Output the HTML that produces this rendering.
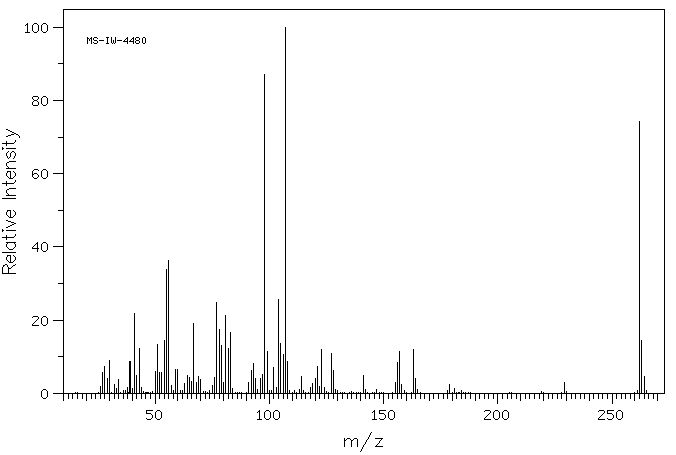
<!DOCTYPE html>
<html><head><meta charset="utf-8"><title>MS-IW-4480</title>
<style>
html,body{margin:0;padding:0;background:#fff;}
body{width:676px;height:455px;overflow:hidden;position:relative;font-family:"Liberation Sans",sans-serif;}
svg{position:absolute;left:0;top:0;display:block;}
</style></head><body>
<svg width="676" height="455" viewBox="0 0 676 455" shape-rendering="crispEdges">
<rect width="676" height="455" fill="#fff"/>
<path d="M2 143h1v1h-1zM2 147h1v3h-1zM2 183h1v1h-1zM2 198h1v1h-1zM2 229h1v3h-1zM2 237h1v1h-1zM2 252h1v1h-1zM2 267h1v7h-1zM3 143h1v1h-1zM3 148h1v1h-1zM3 183h1v1h-1zM3 198h1v1h-1zM3 230h1v1h-1zM3 237h1v1h-1zM3 252h1v1h-1zM3 265h1v2h-1zM3 273h1v1h-1zM4 143h1v1h-1zM4 183h1v1h-1zM4 198h1v1h-1zM4 237h1v1h-1zM4 252h1v1h-1zM4 265h1v1h-1zM4 273h1v1h-1zM5 143h1v1h-1zM5 183h1v1h-1zM5 198h1v1h-1zM5 237h1v1h-1zM5 252h1v1h-1zM5 264h1v1h-1zM5 273h1v1h-1zM6 129h1v1h-1zM6 136h1v1h-1zM6 141h1v5h-1zM6 148h1v1h-1zM6 153h1v3h-1zM6 163h1v3h-1zM6 168h1v1h-1zM6 173h1v3h-1zM6 181h1v5h-1zM6 190h1v3h-1zM6 195h1v1h-1zM6 198h1v1h-1zM6 212h1v3h-1zM6 220h1v1h-1zM6 227h1v1h-1zM6 230h1v1h-1zM6 235h1v5h-1zM6 242h1v1h-1zM6 244h1v3h-1zM6 252h1v1h-1zM6 257h1v3h-1zM6 264h1v1h-1zM6 273h1v1h-1zM7 129h1v1h-1zM7 136h1v1h-1zM7 143h1v1h-1zM7 148h1v1h-1zM7 152h1v1h-1zM7 156h1v2h-1zM7 162h1v1h-1zM7 166h1v1h-1zM7 168h1v1h-1zM7 171h1v2h-1zM7 176h1v1h-1zM7 183h1v1h-1zM7 189h1v1h-1zM7 193h1v1h-1zM7 195h1v1h-1zM7 198h1v1h-1zM7 210h1v2h-1zM7 215h1v1h-1zM7 220h1v1h-1zM7 227h1v1h-1zM7 230h1v1h-1zM7 237h1v1h-1zM7 242h1v2h-1zM7 247h1v1h-1zM7 252h1v1h-1zM7 255h1v2h-1zM7 260h1v1h-1zM7 265h1v2h-1zM7 273h1v1h-1zM8 130h1v1h-1zM8 135h1v1h-1zM8 143h1v1h-1zM8 148h1v1h-1zM8 151h1v1h-1zM8 158h1v1h-1zM8 162h1v1h-1zM8 167h1v2h-1zM8 171h1v1h-1zM8 177h1v1h-1zM8 183h1v1h-1zM8 189h1v1h-1zM8 194h1v2h-1zM8 198h1v1h-1zM8 210h1v1h-1zM8 216h1v1h-1zM8 221h1v1h-1zM8 226h1v1h-1zM8 230h1v1h-1zM8 237h1v1h-1zM8 242h1v1h-1zM8 248h1v1h-1zM8 252h1v1h-1zM8 255h1v1h-1zM8 261h1v1h-1zM8 267h1v7h-1zM9 130h1v1h-1zM9 135h1v1h-1zM9 143h1v1h-1zM9 148h1v1h-1zM9 157h1v1h-1zM9 161h1v1h-1zM9 168h1v1h-1zM9 171h1v1h-1zM9 178h1v1h-1zM9 183h1v1h-1zM9 188h1v1h-1zM9 195h1v1h-1zM9 198h1v1h-1zM9 210h1v1h-1zM9 217h1v1h-1zM9 221h1v1h-1zM9 226h1v1h-1zM9 230h1v1h-1zM9 237h1v1h-1zM9 242h1v1h-1zM9 249h1v1h-1zM9 252h1v1h-1zM9 255h1v1h-1zM9 262h1v1h-1zM9 268h1v1h-1zM9 273h1v1h-1zM10 131h1v1h-1zM10 135h1v1h-1zM10 143h1v1h-1zM10 148h1v1h-1zM10 153h1v4h-1zM10 161h1v1h-1zM10 168h1v1h-1zM10 171h1v8h-1zM10 183h1v1h-1zM10 188h1v1h-1zM10 195h1v1h-1zM10 198h1v1h-1zM10 210h1v8h-1zM10 221h1v1h-1zM10 225h1v1h-1zM10 230h1v1h-1zM10 237h1v1h-1zM10 242h1v1h-1zM10 249h1v1h-1zM10 252h1v1h-1zM10 255h1v8h-1zM10 268h1v1h-1zM10 273h1v1h-1zM11 131h1v1h-1zM11 134h1v1h-1zM11 143h1v1h-1zM11 148h1v1h-1zM11 152h1v1h-1zM11 161h1v1h-1zM11 168h1v1h-1zM11 178h1v1h-1zM11 183h1v1h-1zM11 188h1v1h-1zM11 195h1v1h-1zM11 198h1v1h-1zM11 217h1v1h-1zM11 222h1v1h-1zM11 225h1v1h-1zM11 230h1v1h-1zM11 237h1v1h-1zM11 242h1v1h-1zM11 249h1v1h-1zM11 252h1v1h-1zM11 262h1v1h-1zM11 267h1v1h-1zM11 273h1v1h-1zM12 132h1v1h-1zM12 134h1v1h-1zM12 143h1v1h-1zM12 148h1v1h-1zM12 151h1v1h-1zM12 161h1v1h-1zM12 168h1v1h-1zM12 178h1v1h-1zM12 183h1v1h-1zM12 188h1v1h-1zM12 195h1v1h-1zM12 198h1v1h-1zM12 217h1v1h-1zM12 222h1v1h-1zM12 224h1v1h-1zM12 230h1v1h-1zM12 237h1v1h-1zM12 242h1v1h-1zM12 249h1v1h-1zM12 252h1v1h-1zM12 262h1v1h-1zM12 266h1v1h-1zM12 273h1v1h-1zM13 132h1v1h-1zM13 134h1v1h-1zM13 143h1v1h-1zM13 148h1v1h-1zM13 151h1v1h-1zM13 158h1v1h-1zM13 161h1v1h-1zM13 168h1v1h-1zM13 171h1v1h-1zM13 177h1v1h-1zM13 183h1v1h-1zM13 188h1v1h-1zM13 195h1v1h-1zM13 198h1v1h-1zM13 210h1v1h-1zM13 216h1v1h-1zM13 222h1v1h-1zM13 224h1v1h-1zM13 230h1v1h-1zM13 237h1v1h-1zM13 242h1v1h-1zM13 248h1v1h-1zM13 252h1v1h-1zM13 255h1v1h-1zM13 261h1v1h-1zM13 265h1v1h-1zM13 273h1v1h-1zM14 133h1v1h-1zM14 142h1v1h-1zM14 148h1v1h-1zM14 152h1v1h-1zM14 156h1v2h-1zM14 161h1v1h-1zM14 168h1v1h-1zM14 172h1v1h-1zM14 176h1v1h-1zM14 182h1v1h-1zM14 188h1v1h-1zM14 195h1v1h-1zM14 198h1v1h-1zM14 211h1v1h-1zM14 215h1v1h-1zM14 223h1v1h-1zM14 230h1v1h-1zM14 236h1v1h-1zM14 242h1v2h-1zM14 247h1v1h-1zM14 252h1v1h-1zM14 256h1v1h-1zM14 260h1v1h-1zM14 265h1v1h-1zM14 273h1v1h-1zM15 133h1v1h-1zM15 140h1v2h-1zM15 148h1v1h-1zM15 153h1v3h-1zM15 161h1v1h-1zM15 168h1v1h-1zM15 173h1v3h-1zM15 180h1v2h-1zM15 188h1v1h-1zM15 195h1v1h-1zM15 198h1v1h-1zM15 212h1v3h-1zM15 223h1v1h-1zM15 230h1v1h-1zM15 234h1v2h-1zM15 242h1v1h-1zM15 244h1v3h-1zM15 252h1v1h-1zM15 257h1v3h-1zM15 264h1v1h-1zM15 273h1v1h-1zM16 134h1v1h-1zM17 134h1v1h-1zM18 135h1v1h-1zM19 136h1v2h-1zM25 25h1v1h-1zM25 32h1v1h-1zM26 24h1v1h-1zM26 32h1v1h-1zM27 23h1v10h-1zM28 32h1v1h-1zM29 32h1v1h-1zM32 25h1v6h-1zM32 97h1v2h-1zM32 102h1v3h-1zM32 171h1v6h-1zM32 247h1v2h-1zM32 317h1v1h-1zM32 324h1v2h-1zM33 24h1v1h-1zM33 31h1v1h-1zM33 96h1v1h-1zM33 99h1v1h-1zM33 101h1v1h-1zM33 105h1v1h-1zM33 170h1v1h-1zM33 174h1v1h-1zM33 177h1v1h-1zM33 246h1v1h-1zM33 248h1v1h-1zM33 316h1v1h-1zM33 323h1v1h-1zM33 325h1v1h-1zM34 23h1v1h-1zM34 32h1v1h-1zM34 96h1v1h-1zM34 100h1v1h-1zM34 105h1v1h-1zM34 169h1v1h-1zM34 173h1v1h-1zM34 178h1v1h-1zM34 245h1v1h-1zM34 248h1v1h-1zM34 316h1v1h-1zM34 322h1v1h-1zM34 325h1v1h-1zM35 23h1v1h-1zM35 32h1v1h-1zM35 96h1v1h-1zM35 100h1v1h-1zM35 105h1v1h-1zM35 169h1v1h-1zM35 173h1v1h-1zM35 178h1v1h-1zM35 244h1v1h-1zM35 248h1v1h-1zM35 316h1v1h-1zM35 321h1v1h-1zM35 325h1v1h-1zM36 23h1v1h-1zM36 32h1v1h-1zM36 96h1v1h-1zM36 100h1v1h-1zM36 105h1v1h-1zM36 169h1v1h-1zM36 173h1v1h-1zM36 178h1v1h-1zM36 243h1v1h-1zM36 248h1v1h-1zM36 316h1v1h-1zM36 320h1v1h-1zM36 325h1v1h-1zM37 24h1v1h-1zM37 31h1v1h-1zM37 96h1v1h-1zM37 99h1v1h-1zM37 101h1v1h-1zM37 105h1v1h-1zM37 169h1v1h-1zM37 174h1v1h-1zM37 177h1v1h-1zM37 242h1v10h-1zM37 316h1v1h-1zM37 319h1v1h-1zM37 325h1v1h-1zM38 25h1v6h-1zM38 97h1v2h-1zM38 102h1v3h-1zM38 170h1v1h-1zM38 175h1v2h-1zM38 248h1v1h-1zM38 317h1v2h-1zM38 325h1v1h-1zM41 25h1v6h-1zM41 98h1v6h-1zM41 171h1v6h-1zM41 244h1v6h-1zM41 318h1v6h-1zM41 391h1v6h-1zM42 24h1v1h-1zM42 31h1v1h-1zM42 97h1v1h-1zM42 104h1v1h-1zM42 170h1v1h-1zM42 177h1v1h-1zM42 243h1v1h-1zM42 250h1v1h-1zM42 317h1v1h-1zM42 324h1v1h-1zM42 390h1v1h-1zM42 397h1v1h-1zM43 23h1v1h-1zM43 32h1v1h-1zM43 96h1v1h-1zM43 105h1v1h-1zM43 169h1v1h-1zM43 178h1v1h-1zM43 242h1v1h-1zM43 251h1v1h-1zM43 316h1v1h-1zM43 325h1v1h-1zM43 389h1v1h-1zM43 398h1v1h-1zM44 23h1v1h-1zM44 32h1v1h-1zM44 96h1v1h-1zM44 105h1v1h-1zM44 169h1v1h-1zM44 178h1v1h-1zM44 242h1v1h-1zM44 251h1v1h-1zM44 316h1v1h-1zM44 325h1v1h-1zM44 389h1v1h-1zM44 398h1v1h-1zM45 23h1v1h-1zM45 32h1v1h-1zM45 96h1v1h-1zM45 105h1v1h-1zM45 169h1v1h-1zM45 178h1v1h-1zM45 242h1v1h-1zM45 251h1v1h-1zM45 316h1v1h-1zM45 325h1v1h-1zM45 389h1v1h-1zM45 398h1v1h-1zM46 24h1v1h-1zM46 31h1v1h-1zM46 97h1v1h-1zM46 104h1v1h-1zM46 170h1v1h-1zM46 177h1v1h-1zM46 243h1v1h-1zM46 250h1v1h-1zM46 317h1v1h-1zM46 324h1v1h-1zM46 390h1v1h-1zM46 397h1v1h-1zM47 25h1v6h-1zM47 98h1v6h-1zM47 171h1v6h-1zM47 244h1v6h-1zM47 318h1v6h-1zM47 391h1v6h-1zM53 27h1v1h-1zM53 100h1v1h-1zM53 173h1v1h-1zM53 246h1v1h-1zM53 320h1v1h-1zM53 393h1v1h-1zM54 27h1v1h-1zM54 100h1v1h-1zM54 173h1v1h-1zM54 246h1v1h-1zM54 320h1v1h-1zM54 393h1v1h-1zM55 27h1v1h-1zM55 100h1v1h-1zM55 173h1v1h-1zM55 246h1v1h-1zM55 320h1v1h-1zM55 393h1v1h-1zM56 27h1v1h-1zM56 100h1v1h-1zM56 173h1v1h-1zM56 246h1v1h-1zM56 320h1v1h-1zM56 393h1v1h-1zM57 27h1v1h-1zM57 100h1v1h-1zM57 173h1v1h-1zM57 246h1v1h-1zM57 320h1v1h-1zM57 393h1v1h-1zM58 27h1v1h-1zM58 63h1v1h-1zM58 100h1v1h-1zM58 137h1v1h-1zM58 173h1v1h-1zM58 210h1v1h-1zM58 246h1v1h-1zM58 283h1v1h-1zM58 320h1v1h-1zM58 356h1v1h-1zM58 393h1v1h-1zM59 27h1v1h-1zM59 63h1v1h-1zM59 100h1v1h-1zM59 137h1v1h-1zM59 173h1v1h-1zM59 210h1v1h-1zM59 246h1v1h-1zM59 283h1v1h-1zM59 320h1v1h-1zM59 356h1v1h-1zM59 393h1v1h-1zM60 27h1v1h-1zM60 63h1v1h-1zM60 100h1v1h-1zM60 137h1v1h-1zM60 173h1v1h-1zM60 210h1v1h-1zM60 246h1v1h-1zM60 283h1v1h-1zM60 320h1v1h-1zM60 356h1v1h-1zM60 393h1v1h-1zM61 27h1v1h-1zM61 63h1v1h-1zM61 100h1v1h-1zM61 137h1v1h-1zM61 173h1v1h-1zM61 210h1v1h-1zM61 246h1v1h-1zM61 283h1v1h-1zM61 320h1v1h-1zM61 356h1v1h-1zM61 393h1v1h-1zM62 27h1v1h-1zM62 63h1v1h-1zM62 100h1v1h-1zM62 137h1v1h-1zM62 173h1v1h-1zM62 210h1v1h-1zM62 246h1v1h-1zM62 283h1v1h-1zM62 320h1v1h-1zM62 356h1v1h-1zM62 393h1v1h-1zM63 9h1v392h-1zM64 9h1v1h-1zM64 393h1v1h-1zM65 9h1v1h-1zM65 393h1v1h-1zM66 9h1v1h-1zM66 393h1v1h-1zM67 9h1v1h-1zM67 393h1v1h-1zM68 9h1v1h-1zM68 393h1v6h-1zM69 9h1v1h-1zM69 393h1v1h-1zM70 9h1v1h-1zM70 393h1v1h-1zM71 9h1v1h-1zM71 393h1v1h-1zM72 9h1v1h-1zM72 393h1v6h-1zM73 9h1v1h-1zM73 393h1v1h-1zM74 9h1v1h-1zM74 393h1v1h-1zM75 9h1v1h-1zM75 392h1v2h-1zM76 9h1v1h-1zM76 393h1v1h-1zM77 9h1v1h-1zM77 392h1v7h-1zM78 9h1v1h-1zM78 393h1v1h-1zM79 9h1v1h-1zM79 393h1v1h-1zM80 9h1v1h-1zM80 393h1v1h-1zM81 9h1v1h-1zM81 393h1v1h-1zM82 9h1v1h-1zM82 393h1v6h-1zM83 9h1v1h-1zM83 393h1v1h-1zM84 9h1v1h-1zM84 393h1v1h-1zM85 9h1v1h-1zM85 393h1v1h-1zM86 9h1v1h-1zM86 393h1v8h-1zM87 9h1v1h-1zM87 37h1v7h-1zM87 393h1v1h-1zM88 9h1v1h-1zM88 38h1v1h-1zM88 393h1v1h-1zM89 9h1v1h-1zM89 39h1v2h-1zM89 393h1v1h-1zM90 9h1v1h-1zM90 38h1v1h-1zM90 393h1v1h-1zM91 9h1v1h-1zM91 37h1v7h-1zM91 393h1v6h-1zM92 9h1v1h-1zM92 393h1v1h-1zM93 9h1v1h-1zM93 38h1v2h-1zM93 42h1v1h-1zM93 393h1v1h-1zM94 9h1v1h-1zM94 37h1v1h-1zM94 40h1v1h-1zM94 43h1v1h-1zM94 393h1v1h-1zM95 9h1v1h-1zM95 37h1v1h-1zM95 40h1v1h-1zM95 43h1v1h-1zM95 393h1v6h-1zM96 9h1v1h-1zM96 37h1v1h-1zM96 40h1v1h-1zM96 43h1v1h-1zM96 393h1v1h-1zM97 9h1v1h-1zM97 38h1v1h-1zM97 41h1v2h-1zM97 393h1v1h-1zM98 9h1v1h-1zM98 392h1v2h-1zM99 9h1v1h-1zM99 40h1v1h-1zM99 393h1v1h-1zM100 9h1v1h-1zM100 40h1v1h-1zM100 386h1v13h-1zM101 9h1v1h-1zM101 40h1v1h-1zM101 393h1v1h-1zM102 9h1v1h-1zM102 40h1v1h-1zM102 372h1v22h-1zM103 9h1v1h-1zM103 40h1v1h-1zM103 393h1v1h-1zM104 9h1v1h-1zM104 366h1v33h-1zM105 9h1v1h-1zM105 393h1v1h-1zM106 9h1v1h-1zM106 37h1v1h-1zM106 43h1v1h-1zM106 393h1v1h-1zM107 9h1v1h-1zM107 37h1v7h-1zM107 378h1v16h-1zM108 9h1v1h-1zM108 37h1v1h-1zM108 43h1v1h-1zM108 393h1v1h-1zM109 9h1v1h-1zM109 360h1v41h-1zM110 9h1v1h-1zM110 393h1v1h-1zM111 9h1v1h-1zM111 37h1v6h-1zM111 392h1v2h-1zM112 9h1v1h-1zM112 43h1v1h-1zM112 393h1v1h-1zM113 9h1v1h-1zM113 40h1v3h-1zM113 393h1v1h-1zM114 9h1v1h-1zM114 43h1v1h-1zM114 384h1v15h-1zM115 9h1v1h-1zM115 37h1v6h-1zM115 393h1v1h-1zM116 9h1v1h-1zM116 388h1v6h-1zM117 9h1v1h-1zM117 40h1v1h-1zM117 393h1v1h-1zM118 9h1v1h-1zM118 40h1v1h-1zM118 379h1v20h-1zM119 9h1v1h-1zM119 40h1v1h-1zM119 393h1v1h-1zM120 9h1v1h-1zM120 40h1v1h-1zM120 392h1v2h-1zM121 9h1v1h-1zM121 40h1v1h-1zM121 393h1v1h-1zM122 9h1v1h-1zM122 393h1v1h-1zM123 9h1v1h-1zM123 41h1v1h-1zM123 390h1v9h-1zM124 9h1v1h-1zM124 40h1v2h-1zM124 393h1v1h-1zM125 9h1v1h-1zM125 39h1v1h-1zM125 41h1v1h-1zM125 390h1v4h-1zM126 9h1v1h-1zM126 38h1v1h-1zM126 41h1v1h-1zM126 393h1v1h-1zM127 9h1v1h-1zM127 37h1v7h-1zM127 387h1v12h-1zM128 9h1v1h-1zM128 392h1v2h-1zM129 9h1v1h-1zM129 41h1v1h-1zM129 361h1v33h-1zM130 9h1v1h-1zM130 40h1v2h-1zM130 361h1v33h-1zM131 9h1v1h-1zM131 39h1v1h-1zM131 41h1v1h-1zM131 393h1v1h-1zM132 9h1v1h-1zM132 38h1v1h-1zM132 41h1v1h-1zM132 388h1v13h-1zM133 9h1v1h-1zM133 37h1v7h-1zM133 393h1v1h-1zM134 9h1v1h-1zM134 313h1v81h-1zM135 9h1v1h-1zM135 38h1v2h-1zM135 41h1v2h-1zM135 393h1v1h-1zM136 9h1v1h-1zM136 37h1v1h-1zM136 40h1v1h-1zM136 43h1v1h-1zM136 375h1v24h-1zM137 9h1v1h-1zM137 37h1v1h-1zM137 40h1v1h-1zM137 43h1v1h-1zM137 393h1v1h-1zM138 9h1v1h-1zM138 37h1v1h-1zM138 40h1v1h-1zM138 43h1v1h-1zM138 393h1v1h-1zM139 9h1v1h-1zM139 38h1v2h-1zM139 41h1v2h-1zM139 348h1v46h-1zM140 9h1v1h-1zM140 393h1v1h-1zM141 9h1v1h-1zM141 387h1v12h-1zM142 9h1v1h-1zM142 38h1v5h-1zM142 393h1v1h-1zM143 9h1v1h-1zM143 37h1v1h-1zM143 43h1v1h-1zM143 391h1v3h-1zM144 9h1v1h-1zM144 37h1v1h-1zM144 43h1v1h-1zM144 393h1v1h-1zM145 9h1v1h-1zM145 38h1v5h-1zM145 392h1v7h-1zM146 9h1v1h-1zM146 392h1v2h-1zM146 410h1v4h-1zM146 418h1v1h-1zM147 9h1v1h-1zM147 392h1v2h-1zM147 410h1v1h-1zM147 413h1v1h-1zM147 419h1v1h-1zM148 9h1v1h-1zM148 392h1v2h-1zM148 410h1v1h-1zM148 413h1v1h-1zM148 419h1v1h-1zM149 9h1v1h-1zM149 393h1v1h-1zM149 410h1v1h-1zM149 413h1v1h-1zM149 419h1v1h-1zM150 9h1v1h-1zM150 392h1v7h-1zM150 410h1v1h-1zM150 413h1v1h-1zM150 419h1v1h-1zM151 9h1v1h-1zM151 393h1v1h-1zM151 410h1v1h-1zM151 414h1v1h-1zM151 418h1v1h-1zM152 9h1v1h-1zM152 391h1v3h-1zM152 410h1v1h-1zM152 415h1v3h-1zM153 9h1v1h-1zM153 393h1v1h-1zM154 9h1v1h-1zM154 393h1v1h-1zM155 9h1v1h-1zM155 371h1v33h-1zM155 412h1v6h-1zM156 9h1v1h-1zM156 393h1v1h-1zM156 411h1v1h-1zM156 418h1v1h-1zM157 9h1v1h-1zM157 344h1v50h-1zM157 410h1v1h-1zM157 419h1v1h-1zM158 9h1v1h-1zM158 393h1v1h-1zM158 410h1v1h-1zM158 419h1v1h-1zM159 9h1v1h-1zM159 372h1v27h-1zM159 410h1v1h-1zM159 419h1v1h-1zM160 9h1v1h-1zM160 393h1v1h-1zM160 411h1v1h-1zM160 418h1v1h-1zM161 9h1v1h-1zM161 372h1v22h-1zM161 412h1v6h-1zM162 9h1v1h-1zM162 393h1v1h-1zM163 9h1v1h-1zM163 393h1v1h-1zM164 9h1v1h-1zM164 340h1v59h-1zM165 9h1v1h-1zM165 393h1v1h-1zM166 9h1v1h-1zM166 269h1v125h-1zM167 9h1v1h-1zM167 393h1v1h-1zM168 9h1v1h-1zM168 260h1v139h-1zM169 9h1v1h-1zM169 393h1v1h-1zM170 9h1v1h-1zM170 393h1v1h-1zM171 9h1v1h-1zM171 385h1v9h-1zM172 9h1v1h-1zM172 393h1v1h-1zM173 9h1v1h-1zM173 390h1v9h-1zM174 9h1v1h-1zM174 393h1v1h-1zM175 9h1v1h-1zM175 369h1v25h-1zM176 9h1v1h-1zM176 393h1v1h-1zM177 9h1v1h-1zM177 369h1v32h-1zM178 9h1v1h-1zM178 393h1v1h-1zM179 9h1v1h-1zM179 393h1v1h-1zM180 9h1v1h-1zM180 390h1v4h-1zM181 9h1v1h-1zM181 393h1v1h-1zM182 9h1v1h-1zM182 390h1v9h-1zM183 9h1v1h-1zM183 393h1v1h-1zM184 9h1v1h-1zM184 383h1v11h-1zM185 9h1v1h-1zM185 393h1v1h-1zM186 9h1v1h-1zM186 393h1v1h-1zM187 9h1v1h-1zM187 375h1v24h-1zM188 9h1v1h-1zM188 393h1v1h-1zM189 9h1v1h-1zM189 377h1v17h-1zM190 9h1v1h-1zM190 393h1v1h-1zM191 9h1v1h-1zM191 381h1v18h-1zM192 9h1v1h-1zM192 393h1v1h-1zM193 9h1v1h-1zM193 323h1v71h-1zM194 9h1v1h-1zM194 393h1v1h-1zM195 9h1v1h-1zM195 393h1v1h-1zM196 9h1v1h-1zM196 382h1v17h-1zM197 9h1v1h-1zM197 393h1v1h-1zM198 9h1v1h-1zM198 376h1v18h-1zM199 9h1v1h-1zM199 393h1v1h-1zM200 9h1v1h-1zM200 379h1v22h-1zM201 9h1v1h-1zM201 393h1v1h-1zM202 9h1v1h-1zM202 393h1v1h-1zM203 9h1v1h-1zM203 391h1v3h-1zM204 9h1v1h-1zM204 393h1v1h-1zM205 9h1v1h-1zM205 391h1v8h-1zM206 9h1v1h-1zM206 393h1v1h-1zM207 9h1v1h-1zM207 392h1v2h-1zM208 9h1v1h-1zM208 393h1v1h-1zM209 9h1v1h-1zM209 390h1v9h-1zM210 9h1v1h-1zM210 393h1v1h-1zM211 9h1v1h-1zM211 393h1v1h-1zM212 9h1v1h-1zM212 385h1v9h-1zM213 9h1v1h-1zM213 393h1v1h-1zM214 9h1v1h-1zM214 377h1v22h-1zM215 9h1v1h-1zM215 393h1v1h-1zM216 9h1v1h-1zM216 302h1v92h-1zM217 9h1v1h-1zM217 393h1v1h-1zM218 9h1v1h-1zM218 393h1v1h-1zM219 9h1v1h-1zM219 329h1v70h-1zM220 9h1v1h-1zM220 393h1v1h-1zM221 9h1v1h-1zM221 345h1v49h-1zM222 9h1v1h-1zM222 393h1v1h-1zM223 9h1v1h-1zM223 382h1v19h-1zM224 9h1v1h-1zM224 393h1v1h-1zM225 9h1v1h-1zM225 315h1v79h-1zM226 9h1v1h-1zM226 393h1v1h-1zM227 9h1v1h-1zM227 393h1v1h-1zM228 9h1v1h-1zM228 348h1v51h-1zM229 9h1v1h-1zM229 393h1v1h-1zM230 9h1v1h-1zM230 332h1v62h-1zM231 9h1v1h-1zM231 393h1v1h-1zM232 9h1v1h-1zM232 388h1v11h-1zM233 9h1v1h-1zM233 393h1v1h-1zM234 9h1v1h-1zM234 393h1v1h-1zM235 9h1v1h-1zM235 392h1v2h-1zM236 9h1v1h-1zM236 393h1v1h-1zM237 9h1v1h-1zM237 392h1v7h-1zM238 9h1v1h-1zM238 393h1v1h-1zM239 9h1v1h-1zM239 392h1v2h-1zM240 9h1v1h-1zM240 393h1v1h-1zM241 9h1v1h-1zM241 392h1v7h-1zM242 9h1v1h-1zM242 393h1v1h-1zM243 9h1v1h-1zM243 393h1v1h-1zM244 9h1v1h-1zM244 393h1v1h-1zM245 9h1v1h-1zM245 393h1v1h-1zM246 9h1v1h-1zM246 392h1v9h-1zM247 9h1v1h-1zM247 393h1v1h-1zM248 9h1v1h-1zM248 382h1v12h-1zM249 9h1v1h-1zM249 393h1v1h-1zM250 9h1v1h-1zM250 393h1v1h-1zM251 9h1v1h-1zM251 370h1v29h-1zM252 9h1v1h-1zM252 393h1v1h-1zM253 9h1v1h-1zM253 363h1v31h-1zM254 9h1v1h-1zM254 393h1v1h-1zM255 9h1v1h-1zM255 378h1v21h-1zM256 9h1v1h-1zM256 393h1v1h-1zM257 9h1v1h-1zM257 389h1v5h-1zM257 412h1v1h-1zM257 419h1v1h-1zM258 9h1v1h-1zM258 393h1v1h-1zM258 411h1v1h-1zM258 419h1v1h-1zM259 9h1v1h-1zM259 393h1v1h-1zM259 410h1v10h-1zM260 9h1v1h-1zM260 378h1v21h-1zM260 419h1v1h-1zM261 9h1v1h-1zM261 393h1v1h-1zM261 419h1v1h-1zM262 9h1v1h-1zM262 374h1v20h-1zM263 9h1v1h-1zM263 393h1v1h-1zM264 9h1v1h-1zM264 74h1v325h-1zM264 412h1v6h-1zM265 9h1v1h-1zM265 393h1v1h-1zM265 411h1v1h-1zM265 418h1v1h-1zM266 9h1v1h-1zM266 393h1v1h-1zM266 410h1v1h-1zM266 419h1v1h-1zM267 9h1v1h-1zM267 351h1v43h-1zM267 410h1v1h-1zM267 419h1v1h-1zM268 9h1v1h-1zM268 393h1v1h-1zM268 410h1v1h-1zM268 419h1v1h-1zM269 9h1v1h-1zM269 390h1v14h-1zM269 411h1v1h-1zM269 418h1v1h-1zM270 9h1v1h-1zM270 393h1v1h-1zM270 412h1v6h-1zM271 9h1v1h-1zM271 390h1v4h-1zM272 9h1v1h-1zM272 393h1v1h-1zM273 9h1v1h-1zM273 367h1v32h-1zM273 412h1v6h-1zM274 9h1v1h-1zM274 393h1v1h-1zM274 411h1v1h-1zM274 418h1v1h-1zM275 9h1v1h-1zM275 393h1v1h-1zM275 410h1v1h-1zM275 419h1v1h-1zM276 9h1v1h-1zM276 387h1v7h-1zM276 410h1v1h-1zM276 419h1v1h-1zM277 9h1v1h-1zM277 393h1v1h-1zM277 410h1v1h-1zM277 419h1v1h-1zM278 9h1v1h-1zM278 299h1v100h-1zM278 411h1v1h-1zM278 418h1v1h-1zM279 9h1v1h-1zM279 393h1v1h-1zM279 412h1v6h-1zM280 9h1v1h-1zM280 343h1v51h-1zM281 9h1v1h-1zM281 393h1v1h-1zM282 9h1v1h-1zM282 393h1v1h-1zM283 9h1v1h-1zM283 354h1v45h-1zM284 9h1v1h-1zM284 393h1v1h-1zM285 9h1v1h-1zM285 27h1v367h-1zM286 9h1v1h-1zM286 393h1v1h-1zM287 9h1v1h-1zM287 361h1v38h-1zM288 9h1v1h-1zM288 393h1v1h-1zM289 9h1v1h-1zM289 390h1v4h-1zM290 9h1v1h-1zM290 393h1v1h-1zM291 9h1v1h-1zM291 393h1v1h-1zM292 9h1v1h-1zM292 392h1v9h-1zM293 9h1v1h-1zM293 393h1v1h-1zM294 9h1v1h-1zM294 390h1v4h-1zM295 9h1v1h-1zM295 393h1v1h-1zM296 9h1v1h-1zM296 392h1v7h-1zM297 9h1v1h-1zM297 393h1v1h-1zM298 9h1v1h-1zM298 393h1v1h-1zM299 9h1v1h-1zM299 389h1v5h-1zM300 9h1v1h-1zM300 393h1v1h-1zM301 9h1v1h-1zM301 376h1v23h-1zM302 9h1v1h-1zM302 393h1v1h-1zM303 9h1v1h-1zM303 390h1v4h-1zM304 9h1v1h-1zM304 393h1v1h-1zM305 9h1v1h-1zM305 392h1v7h-1zM306 9h1v1h-1zM306 393h1v1h-1zM307 9h1v1h-1zM307 393h1v1h-1zM308 9h1v1h-1zM308 392h1v2h-1zM309 9h1v1h-1zM309 393h1v1h-1zM310 9h1v1h-1zM310 387h1v12h-1zM311 9h1v1h-1zM311 393h1v1h-1zM312 9h1v1h-1zM312 383h1v11h-1zM313 9h1v1h-1zM313 393h1v1h-1zM314 9h1v1h-1zM314 393h1v1h-1zM315 9h1v1h-1zM315 378h1v23h-1zM316 9h1v1h-1zM316 393h1v1h-1zM317 9h1v1h-1zM317 366h1v28h-1zM318 9h1v1h-1zM318 393h1v1h-1zM319 9h1v1h-1zM319 386h1v13h-1zM320 9h1v1h-1zM320 393h1v1h-1zM321 9h1v1h-1zM321 349h1v45h-1zM322 9h1v1h-1zM322 393h1v1h-1zM323 9h1v1h-1zM323 393h1v1h-1zM324 9h1v1h-1zM324 387h1v12h-1zM325 9h1v1h-1zM325 393h1v1h-1zM326 9h1v1h-1zM326 391h1v3h-1zM327 9h1v1h-1zM327 393h1v1h-1zM328 9h1v1h-1zM328 392h1v7h-1zM329 9h1v1h-1zM329 393h1v1h-1zM330 9h1v1h-1zM330 393h1v1h-1zM331 9h1v1h-1zM331 353h1v41h-1zM332 9h1v1h-1zM332 393h1v1h-1zM333 9h1v1h-1zM333 370h1v29h-1zM334 9h1v1h-1zM334 393h1v1h-1zM335 9h1v1h-1zM335 389h1v5h-1zM336 9h1v1h-1zM336 393h1v1h-1zM337 9h1v1h-1zM337 390h1v11h-1zM338 9h1v1h-1zM338 393h1v1h-1zM339 9h1v1h-1zM339 393h1v1h-1zM340 9h1v1h-1zM340 392h1v2h-1zM341 9h1v1h-1zM341 393h1v1h-1zM342 9h1v1h-1zM342 392h1v7h-1zM343 9h1v1h-1zM343 393h1v1h-1zM344 9h1v1h-1zM344 392h1v2h-1zM344 438h1v9h-1zM345 9h1v1h-1zM345 393h1v1h-1zM345 440h1v1h-1zM346 9h1v1h-1zM346 393h1v1h-1zM346 439h1v1h-1zM347 9h1v1h-1zM347 393h1v6h-1zM347 438h1v1h-1zM348 9h1v1h-1zM348 393h1v1h-1zM348 438h1v1h-1zM349 9h1v1h-1zM349 392h1v2h-1zM349 438h1v1h-1zM350 9h1v1h-1zM350 393h1v1h-1zM350 439h1v1h-1zM351 9h1v1h-1zM351 391h1v8h-1zM351 440h1v7h-1zM352 9h1v1h-1zM352 393h1v1h-1zM352 440h1v1h-1zM353 9h1v1h-1zM353 392h1v2h-1zM353 439h1v1h-1zM354 9h1v1h-1zM354 393h1v1h-1zM354 438h1v1h-1zM355 9h1v1h-1zM355 393h1v1h-1zM355 438h1v1h-1zM356 9h1v1h-1zM356 392h1v7h-1zM356 438h1v1h-1zM357 9h1v1h-1zM357 393h1v1h-1zM357 439h1v8h-1zM358 9h1v1h-1zM358 392h1v2h-1zM359 9h1v1h-1zM359 393h1v1h-1zM360 9h1v1h-1zM360 392h1v9h-1zM360 451h1v1h-1zM361 9h1v1h-1zM361 393h1v1h-1zM361 449h1v2h-1zM362 9h1v1h-1zM362 393h1v1h-1zM362 447h1v2h-1zM363 9h1v1h-1zM363 375h1v19h-1zM363 445h1v2h-1zM364 9h1v1h-1zM364 393h1v1h-1zM364 444h1v1h-1zM365 9h1v1h-1zM365 389h1v10h-1zM365 442h1v2h-1zM366 9h1v1h-1zM366 393h1v1h-1zM366 440h1v2h-1zM367 9h1v1h-1zM367 392h1v2h-1zM367 439h1v1h-1zM368 9h1v1h-1zM368 393h1v1h-1zM368 437h1v2h-1zM369 9h1v1h-1zM369 393h1v6h-1zM369 435h1v2h-1zM370 9h1v1h-1zM370 393h1v1h-1zM370 433h1v2h-1zM371 9h1v1h-1zM371 393h1v1h-1zM371 432h1v1h-1zM372 9h1v1h-1zM372 392h1v2h-1zM372 412h1v1h-1zM372 419h1v1h-1zM373 9h1v1h-1zM373 393h1v1h-1zM373 411h1v1h-1zM373 419h1v1h-1zM374 9h1v1h-1zM374 392h1v7h-1zM374 410h1v10h-1zM375 9h1v1h-1zM375 393h1v1h-1zM375 419h1v1h-1zM375 438h1v1h-1zM375 446h1v1h-1zM376 9h1v1h-1zM376 389h1v5h-1zM376 419h1v1h-1zM376 438h1v1h-1zM376 445h1v2h-1zM377 9h1v1h-1zM377 393h1v1h-1zM377 438h1v1h-1zM377 444h1v1h-1zM377 446h1v1h-1zM378 9h1v1h-1zM378 393h1v1h-1zM378 438h1v1h-1zM378 443h1v1h-1zM378 446h1v1h-1zM379 9h1v1h-1zM379 392h1v7h-1zM379 410h1v4h-1zM379 418h1v1h-1zM379 438h1v1h-1zM379 441h1v2h-1zM379 446h1v1h-1zM380 9h1v1h-1zM380 393h1v1h-1zM380 410h1v1h-1zM380 413h1v1h-1zM380 419h1v1h-1zM380 438h1v1h-1zM380 440h1v1h-1zM380 446h1v1h-1zM381 9h1v1h-1zM381 392h1v2h-1zM381 410h1v1h-1zM381 413h1v1h-1zM381 419h1v1h-1zM381 438h1v2h-1zM381 446h1v1h-1zM382 9h1v1h-1zM382 393h1v1h-1zM382 410h1v1h-1zM382 413h1v1h-1zM382 419h1v1h-1zM382 438h1v1h-1zM382 446h1v1h-1zM383 9h1v1h-1zM383 392h1v12h-1zM383 410h1v1h-1zM383 413h1v1h-1zM383 419h1v1h-1zM384 9h1v1h-1zM384 393h1v1h-1zM384 410h1v1h-1zM384 414h1v1h-1zM384 418h1v1h-1zM385 9h1v1h-1zM385 393h1v1h-1zM385 410h1v1h-1zM385 415h1v3h-1zM386 9h1v1h-1zM386 393h1v1h-1zM387 9h1v1h-1zM387 393h1v1h-1zM388 9h1v1h-1zM388 393h1v6h-1zM388 412h1v6h-1zM389 9h1v1h-1zM389 393h1v1h-1zM389 411h1v1h-1zM389 418h1v1h-1zM390 9h1v1h-1zM390 393h1v1h-1zM390 410h1v1h-1zM390 419h1v1h-1zM391 9h1v1h-1zM391 393h1v1h-1zM391 410h1v1h-1zM391 419h1v1h-1zM392 9h1v1h-1zM392 392h1v7h-1zM392 410h1v1h-1zM392 419h1v1h-1zM393 9h1v1h-1zM393 393h1v1h-1zM393 411h1v1h-1zM393 418h1v1h-1zM394 9h1v1h-1zM394 393h1v1h-1zM394 412h1v6h-1zM395 9h1v1h-1zM395 382h1v12h-1zM396 9h1v1h-1zM396 393h1v1h-1zM397 9h1v1h-1zM397 362h1v37h-1zM398 9h1v1h-1zM398 393h1v1h-1zM399 9h1v1h-1zM399 351h1v43h-1zM400 9h1v1h-1zM400 393h1v1h-1zM401 9h1v1h-1zM401 384h1v15h-1zM402 9h1v1h-1zM402 393h1v1h-1zM403 9h1v1h-1zM403 393h1v1h-1zM404 9h1v1h-1zM404 390h1v4h-1zM405 9h1v1h-1zM405 393h1v1h-1zM406 9h1v1h-1zM406 392h1v9h-1zM407 9h1v1h-1zM407 393h1v1h-1zM408 9h1v1h-1zM408 393h1v1h-1zM409 9h1v1h-1zM409 393h1v1h-1zM410 9h1v1h-1zM410 393h1v1h-1zM411 9h1v1h-1zM411 392h1v7h-1zM412 9h1v1h-1zM412 393h1v1h-1zM413 9h1v1h-1zM413 349h1v45h-1zM414 9h1v1h-1zM414 393h1v1h-1zM415 9h1v1h-1zM415 378h1v21h-1zM416 9h1v1h-1zM416 393h1v1h-1zM417 9h1v1h-1zM417 389h1v5h-1zM418 9h1v1h-1zM418 393h1v1h-1zM419 9h1v1h-1zM419 393h1v1h-1zM420 9h1v1h-1zM420 392h1v7h-1zM421 9h1v1h-1zM421 393h1v1h-1zM422 9h1v1h-1zM422 393h1v1h-1zM423 9h1v1h-1zM423 393h1v1h-1zM424 9h1v1h-1zM424 393h1v6h-1zM425 9h1v1h-1zM425 393h1v1h-1zM426 9h1v1h-1zM426 393h1v1h-1zM427 9h1v1h-1zM427 393h1v1h-1zM428 9h1v1h-1zM428 393h1v1h-1zM429 9h1v1h-1zM429 393h1v8h-1zM430 9h1v1h-1zM430 393h1v1h-1zM431 9h1v1h-1zM431 393h1v1h-1zM432 9h1v1h-1zM432 393h1v1h-1zM433 9h1v1h-1zM433 393h1v6h-1zM434 9h1v1h-1zM434 393h1v1h-1zM435 9h1v1h-1zM435 393h1v1h-1zM436 9h1v1h-1zM436 393h1v1h-1zM437 9h1v1h-1zM437 393h1v1h-1zM438 9h1v1h-1zM438 393h1v6h-1zM439 9h1v1h-1zM439 393h1v1h-1zM440 9h1v1h-1zM440 393h1v1h-1zM441 9h1v1h-1zM441 393h1v1h-1zM442 9h1v1h-1zM442 393h1v1h-1zM443 9h1v1h-1zM443 393h1v6h-1zM444 9h1v1h-1zM444 393h1v1h-1zM445 9h1v1h-1zM445 393h1v1h-1zM446 9h1v1h-1zM446 393h1v1h-1zM447 9h1v1h-1zM447 390h1v9h-1zM448 9h1v1h-1zM448 393h1v1h-1zM449 9h1v1h-1zM449 384h1v10h-1zM450 9h1v1h-1zM450 393h1v1h-1zM451 9h1v1h-1zM451 393h1v1h-1zM452 9h1v1h-1zM452 392h1v9h-1zM453 9h1v1h-1zM453 393h1v1h-1zM454 9h1v1h-1zM454 388h1v6h-1zM455 9h1v1h-1zM455 393h1v1h-1zM456 9h1v1h-1zM456 392h1v7h-1zM457 9h1v1h-1zM457 393h1v1h-1zM458 9h1v1h-1zM458 392h1v2h-1zM459 9h1v1h-1zM459 392h1v2h-1zM460 9h1v1h-1zM460 393h1v1h-1zM461 9h1v1h-1zM461 390h1v9h-1zM462 9h1v1h-1zM462 393h1v1h-1zM463 9h1v1h-1zM463 392h1v2h-1zM464 9h1v1h-1zM464 393h1v1h-1zM465 9h1v1h-1zM465 392h1v7h-1zM466 9h1v1h-1zM466 393h1v1h-1zM467 9h1v1h-1zM467 393h1v1h-1zM468 9h1v1h-1zM468 392h1v2h-1zM469 9h1v1h-1zM469 393h1v1h-1zM470 9h1v1h-1zM470 392h1v7h-1zM471 9h1v1h-1zM471 393h1v1h-1zM472 9h1v1h-1zM472 393h1v1h-1zM473 9h1v1h-1zM473 393h1v1h-1zM474 9h1v1h-1zM474 393h1v1h-1zM475 9h1v1h-1zM475 393h1v8h-1zM476 9h1v1h-1zM476 393h1v1h-1zM477 9h1v1h-1zM477 393h1v1h-1zM478 9h1v1h-1zM478 393h1v1h-1zM479 9h1v1h-1zM479 393h1v6h-1zM480 9h1v1h-1zM480 393h1v1h-1zM481 9h1v1h-1zM481 393h1v1h-1zM482 9h1v1h-1zM482 393h1v1h-1zM483 9h1v1h-1zM483 393h1v1h-1zM484 9h1v1h-1zM484 393h1v6h-1zM484 411h1v1h-1zM484 418h1v2h-1zM485 9h1v1h-1zM485 393h1v1h-1zM485 410h1v1h-1zM485 417h1v1h-1zM485 419h1v1h-1zM486 9h1v1h-1zM486 393h1v1h-1zM486 410h1v1h-1zM486 416h1v1h-1zM486 419h1v1h-1zM487 9h1v1h-1zM487 393h1v1h-1zM487 410h1v1h-1zM487 415h1v1h-1zM487 419h1v1h-1zM488 9h1v1h-1zM488 393h1v6h-1zM488 410h1v1h-1zM488 414h1v1h-1zM488 419h1v1h-1zM489 9h1v1h-1zM489 393h1v1h-1zM489 410h1v1h-1zM489 413h1v1h-1zM489 419h1v1h-1zM490 9h1v1h-1zM490 393h1v1h-1zM490 411h1v2h-1zM490 419h1v1h-1zM491 9h1v1h-1zM491 393h1v1h-1zM492 9h1v1h-1zM492 393h1v1h-1zM493 9h1v1h-1zM493 393h1v6h-1zM493 412h1v6h-1zM494 9h1v1h-1zM494 393h1v1h-1zM494 411h1v1h-1zM494 418h1v1h-1zM495 9h1v1h-1zM495 393h1v1h-1zM495 410h1v1h-1zM495 419h1v1h-1zM496 9h1v1h-1zM496 393h1v1h-1zM496 410h1v1h-1zM496 419h1v1h-1zM497 9h1v1h-1zM497 393h1v11h-1zM497 410h1v1h-1zM497 419h1v1h-1zM498 9h1v1h-1zM498 393h1v1h-1zM498 411h1v1h-1zM498 418h1v1h-1zM499 9h1v1h-1zM499 393h1v1h-1zM499 412h1v6h-1zM500 9h1v1h-1zM500 393h1v1h-1zM501 9h1v1h-1zM501 393h1v1h-1zM502 9h1v1h-1zM502 393h1v6h-1zM502 412h1v6h-1zM503 9h1v1h-1zM503 393h1v1h-1zM503 411h1v1h-1zM503 418h1v1h-1zM504 9h1v1h-1zM504 393h1v1h-1zM504 410h1v1h-1zM504 419h1v1h-1zM505 9h1v1h-1zM505 393h1v1h-1zM505 410h1v1h-1zM505 419h1v1h-1zM506 9h1v1h-1zM506 393h1v1h-1zM506 410h1v1h-1zM506 419h1v1h-1zM507 9h1v1h-1zM507 393h1v6h-1zM507 411h1v1h-1zM507 418h1v1h-1zM508 9h1v1h-1zM508 393h1v1h-1zM508 412h1v6h-1zM509 9h1v1h-1zM509 392h1v2h-1zM510 9h1v1h-1zM510 393h1v1h-1zM511 9h1v1h-1zM511 392h1v7h-1zM512 9h1v1h-1zM512 393h1v1h-1zM513 9h1v1h-1zM513 393h1v1h-1zM514 9h1v1h-1zM514 393h1v1h-1zM515 9h1v1h-1zM515 393h1v1h-1zM516 9h1v1h-1zM516 393h1v6h-1zM517 9h1v1h-1zM517 393h1v1h-1zM518 9h1v1h-1zM518 393h1v1h-1zM519 9h1v1h-1zM519 393h1v1h-1zM520 9h1v1h-1zM520 393h1v8h-1zM521 9h1v1h-1zM521 393h1v1h-1zM522 9h1v1h-1zM522 393h1v1h-1zM523 9h1v1h-1zM523 393h1v1h-1zM524 9h1v1h-1zM524 393h1v1h-1zM525 9h1v1h-1zM525 393h1v6h-1zM526 9h1v1h-1zM526 393h1v1h-1zM527 9h1v1h-1zM527 393h1v1h-1zM528 9h1v1h-1zM528 393h1v1h-1zM529 9h1v1h-1zM529 393h1v6h-1zM530 9h1v1h-1zM530 393h1v1h-1zM531 9h1v1h-1zM531 393h1v1h-1zM532 9h1v1h-1zM532 393h1v1h-1zM533 9h1v1h-1zM533 393h1v1h-1zM534 9h1v1h-1zM534 393h1v6h-1zM535 9h1v1h-1zM535 393h1v1h-1zM536 9h1v1h-1zM536 393h1v1h-1zM537 9h1v1h-1zM537 393h1v1h-1zM538 9h1v1h-1zM538 393h1v1h-1zM539 9h1v1h-1zM539 393h1v6h-1zM540 9h1v1h-1zM540 393h1v1h-1zM541 9h1v1h-1zM541 391h1v3h-1zM542 9h1v1h-1zM542 393h1v1h-1zM543 9h1v1h-1zM543 392h1v9h-1zM544 9h1v1h-1zM544 393h1v1h-1zM545 9h1v1h-1zM545 393h1v1h-1zM546 9h1v1h-1zM546 393h1v1h-1zM547 9h1v1h-1zM547 393h1v1h-1zM548 9h1v1h-1zM548 393h1v6h-1zM549 9h1v1h-1zM549 393h1v1h-1zM550 9h1v1h-1zM550 393h1v1h-1zM551 9h1v1h-1zM551 393h1v1h-1zM552 9h1v1h-1zM552 393h1v6h-1zM553 9h1v1h-1zM553 393h1v1h-1zM554 9h1v1h-1zM554 393h1v1h-1zM555 9h1v1h-1zM555 393h1v1h-1zM556 9h1v1h-1zM556 393h1v1h-1zM557 9h1v1h-1zM557 393h1v6h-1zM558 9h1v1h-1zM558 393h1v1h-1zM559 9h1v1h-1zM559 393h1v1h-1zM560 9h1v1h-1zM560 393h1v1h-1zM561 9h1v1h-1zM561 392h1v7h-1zM562 9h1v1h-1zM562 393h1v1h-1zM563 9h1v1h-1zM563 393h1v1h-1zM564 9h1v1h-1zM564 382h1v12h-1zM565 9h1v1h-1zM565 393h1v1h-1zM566 9h1v1h-1zM566 391h1v10h-1zM567 9h1v1h-1zM567 393h1v1h-1zM568 9h1v1h-1zM568 393h1v1h-1zM569 9h1v1h-1zM569 393h1v1h-1zM570 9h1v1h-1zM570 393h1v1h-1zM571 9h1v1h-1zM571 393h1v6h-1zM572 9h1v1h-1zM572 393h1v1h-1zM573 9h1v1h-1zM573 393h1v1h-1zM574 9h1v1h-1zM574 393h1v1h-1zM575 9h1v1h-1zM575 393h1v6h-1zM576 9h1v1h-1zM576 393h1v1h-1zM577 9h1v1h-1zM577 393h1v1h-1zM578 9h1v1h-1zM578 393h1v1h-1zM579 9h1v1h-1zM579 393h1v1h-1zM580 9h1v1h-1zM580 393h1v6h-1zM581 9h1v1h-1zM581 393h1v1h-1zM582 9h1v1h-1zM582 393h1v1h-1zM583 9h1v1h-1zM583 393h1v1h-1zM584 9h1v1h-1zM584 393h1v6h-1zM585 9h1v1h-1zM585 393h1v1h-1zM586 9h1v1h-1zM586 393h1v1h-1zM587 9h1v1h-1zM587 393h1v1h-1zM588 9h1v1h-1zM588 393h1v1h-1zM589 9h1v1h-1zM589 393h1v8h-1zM590 9h1v1h-1zM590 393h1v1h-1zM591 9h1v1h-1zM591 393h1v1h-1zM592 9h1v1h-1zM592 393h1v1h-1zM593 9h1v1h-1zM593 393h1v6h-1zM594 9h1v1h-1zM594 393h1v1h-1zM595 9h1v1h-1zM595 393h1v1h-1zM596 9h1v1h-1zM596 393h1v1h-1zM597 9h1v1h-1zM597 393h1v1h-1zM598 9h1v1h-1zM598 393h1v6h-1zM598 411h1v1h-1zM598 418h1v2h-1zM599 9h1v1h-1zM599 393h1v1h-1zM599 410h1v1h-1zM599 417h1v1h-1zM599 419h1v1h-1zM600 9h1v1h-1zM600 393h1v1h-1zM600 410h1v1h-1zM600 416h1v1h-1zM600 419h1v1h-1zM601 9h1v1h-1zM601 393h1v1h-1zM601 410h1v1h-1zM601 415h1v1h-1zM601 419h1v1h-1zM602 9h1v1h-1zM602 393h1v6h-1zM602 410h1v1h-1zM602 414h1v1h-1zM602 419h1v1h-1zM603 9h1v1h-1zM603 393h1v1h-1zM603 410h1v1h-1zM603 413h1v1h-1zM603 419h1v1h-1zM604 9h1v1h-1zM604 393h1v1h-1zM604 411h1v2h-1zM604 419h1v1h-1zM605 9h1v1h-1zM605 393h1v1h-1zM606 9h1v1h-1zM606 393h1v1h-1zM607 9h1v1h-1zM607 393h1v6h-1zM607 410h1v4h-1zM607 418h1v1h-1zM608 9h1v1h-1zM608 393h1v1h-1zM608 410h1v1h-1zM608 413h1v1h-1zM608 419h1v1h-1zM609 9h1v1h-1zM609 393h1v1h-1zM609 410h1v1h-1zM609 413h1v1h-1zM609 419h1v1h-1zM610 9h1v1h-1zM610 393h1v1h-1zM610 410h1v1h-1zM610 413h1v1h-1zM610 419h1v1h-1zM611 9h1v1h-1zM611 393h1v1h-1zM611 410h1v1h-1zM611 413h1v1h-1zM611 419h1v1h-1zM612 9h1v1h-1zM612 393h1v11h-1zM612 410h1v1h-1zM612 414h1v1h-1zM612 418h1v1h-1zM613 9h1v1h-1zM613 393h1v1h-1zM613 410h1v1h-1zM613 415h1v3h-1zM614 9h1v1h-1zM614 393h1v1h-1zM615 9h1v1h-1zM615 393h1v1h-1zM616 9h1v1h-1zM616 393h1v6h-1zM616 412h1v6h-1zM617 9h1v1h-1zM617 393h1v1h-1zM617 411h1v1h-1zM617 418h1v1h-1zM618 9h1v1h-1zM618 393h1v1h-1zM618 410h1v1h-1zM618 419h1v1h-1zM619 9h1v1h-1zM619 393h1v1h-1zM619 410h1v1h-1zM619 419h1v1h-1zM620 9h1v1h-1zM620 393h1v1h-1zM620 410h1v1h-1zM620 419h1v1h-1zM621 9h1v1h-1zM621 393h1v6h-1zM621 411h1v1h-1zM621 418h1v1h-1zM622 9h1v1h-1zM622 393h1v1h-1zM622 412h1v6h-1zM623 9h1v1h-1zM623 393h1v1h-1zM624 9h1v1h-1zM624 393h1v1h-1zM625 9h1v1h-1zM625 393h1v6h-1zM626 9h1v1h-1zM626 393h1v1h-1zM627 9h1v1h-1zM627 393h1v1h-1zM628 9h1v1h-1zM628 393h1v1h-1zM629 9h1v1h-1zM629 393h1v1h-1zM630 9h1v1h-1zM630 393h1v6h-1zM631 9h1v1h-1zM631 393h1v1h-1zM632 9h1v1h-1zM632 393h1v1h-1zM633 9h1v1h-1zM633 393h1v1h-1zM634 9h1v1h-1zM634 392h1v9h-1zM635 9h1v1h-1zM635 393h1v1h-1zM636 9h1v1h-1zM636 393h1v1h-1zM637 9h1v1h-1zM637 390h1v4h-1zM638 9h1v1h-1zM638 393h1v1h-1zM639 9h1v1h-1zM639 121h1v278h-1zM640 9h1v1h-1zM640 393h1v1h-1zM641 9h1v1h-1zM641 340h1v54h-1zM642 9h1v1h-1zM642 393h1v1h-1zM643 9h1v1h-1zM643 393h1v1h-1zM644 9h1v1h-1zM644 376h1v23h-1zM645 9h1v1h-1zM645 393h1v1h-1zM646 9h1v1h-1zM646 390h1v4h-1zM647 9h1v1h-1zM647 393h1v1h-1zM648 9h1v1h-1zM648 393h1v6h-1zM649 9h1v1h-1zM649 393h1v1h-1zM650 9h1v1h-1zM650 393h1v1h-1zM651 9h1v1h-1zM651 393h1v1h-1zM652 9h1v1h-1zM652 393h1v1h-1zM653 9h1v1h-1zM653 393h1v6h-1zM654 9h1v1h-1zM654 393h1v1h-1zM655 9h1v1h-1zM655 393h1v1h-1zM656 9h1v1h-1zM656 393h1v1h-1zM657 9h1v1h-1zM657 393h1v8h-1zM658 9h1v1h-1zM658 393h1v1h-1zM659 9h1v1h-1zM659 393h1v1h-1zM660 9h1v1h-1zM660 393h1v1h-1zM661 9h1v1h-1zM661 393h1v1h-1zM662 9h1v1h-1zM662 393h1v1h-1zM663 9h1v1h-1zM663 393h1v1h-1zM664 9h1v385h-1z" fill="#000" stroke="none"/>
</svg>
</body></html>
